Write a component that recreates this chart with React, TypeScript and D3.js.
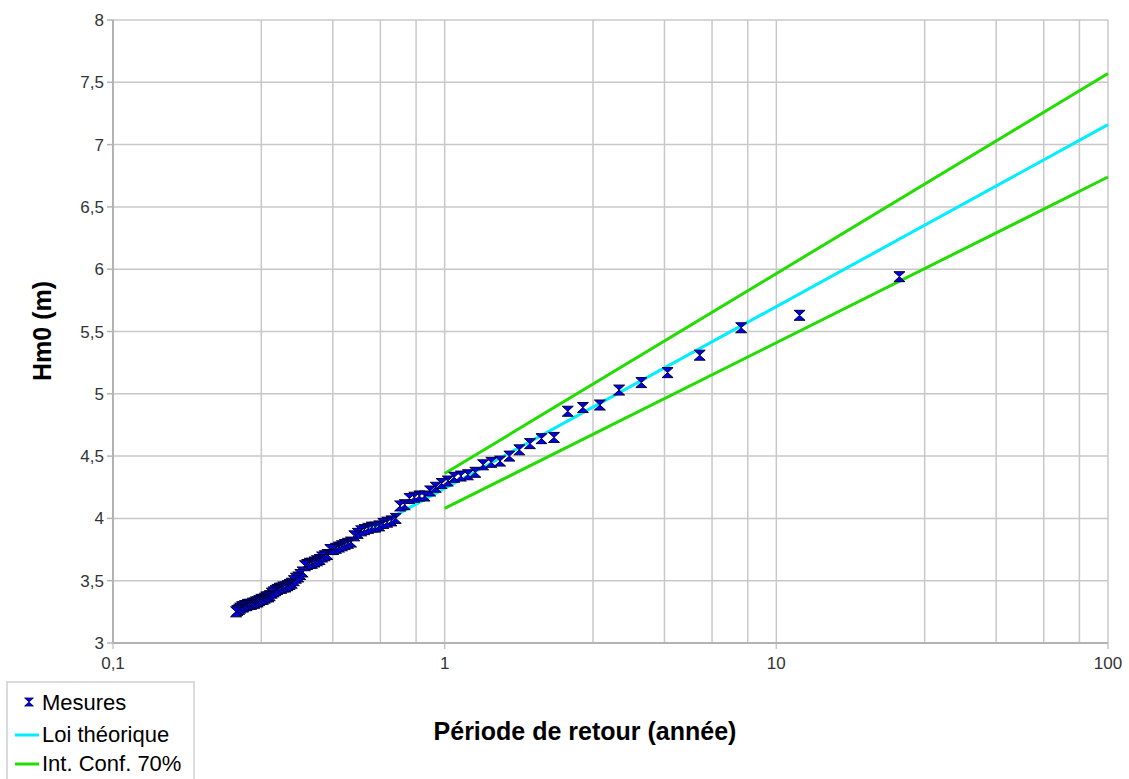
import React from "react";
import * as d3 from "d3";

const returnPeriods = [
  23.5, 11.75, 7.833, 5.875, 4.7, 3.917, 3.357, 2.938, 2.611, 2.35,
  2.136, 1.958, 1.808, 1.679, 1.567, 1.469, 1.382, 1.306, 1.237, 1.175,
  1.119, 1.068, 1.022, 0.979, 0.94, 0.904, 0.87, 0.839, 0.81, 0.783,
  0.758, 0.734, 0.712, 0.691, 0.671, 0.653, 0.635, 0.618, 0.603, 0.588,
  0.573, 0.56, 0.547, 0.534, 0.522, 0.511, 0.5, 0.49, 0.48, 0.47,
  0.461, 0.452, 0.443, 0.435, 0.427, 0.42, 0.412, 0.405, 0.398, 0.392,
  0.385, 0.379, 0.373, 0.367, 0.362, 0.356, 0.351, 0.346, 0.341, 0.336,
  0.331, 0.326, 0.322, 0.318, 0.313, 0.309, 0.305, 0.301, 0.297, 0.294,
  0.29, 0.287, 0.283, 0.28, 0.276, 0.273, 0.27, 0.267, 0.264, 0.261,
  0.258, 0.255, 0.253, 0.25, 0.247, 0.245, 0.242, 0.24, 0.237, 0.235,
];

const hm0 = [
  5.94, 5.63, 5.53, 5.31, 5.17, 5.09, 5.03, 4.91, 4.89, 4.86,
  4.65, 4.64, 4.6, 4.55, 4.5, 4.46, 4.45, 4.43, 4.37, 4.35,
  4.34, 4.33, 4.3, 4.28, 4.25, 4.22, 4.18, 4.18, 4.17, 4.16,
  4.11, 4.1, 4.0, 3.98, 3.97, 3.96, 3.94, 3.93, 3.93, 3.92,
  3.91, 3.9, 3.88, 3.86, 3.81, 3.8, 3.79, 3.78, 3.77, 3.76,
  3.75, 3.75, 3.71, 3.7, 3.69, 3.67, 3.66, 3.65, 3.64, 3.64,
  3.63, 3.62, 3.57, 3.55, 3.53, 3.52, 3.5, 3.48, 3.47, 3.46,
  3.45, 3.45, 3.44, 3.44, 3.43, 3.42, 3.41, 3.4, 3.38, 3.37,
  3.37, 3.36, 3.35, 3.35, 3.34, 3.33, 3.33, 3.32, 3.32, 3.31,
  3.31, 3.31, 3.3, 3.3, 3.29, 3.29, 3.28, 3.27, 3.26, 3.25,
];

// theoretical law and confidence bounds: [T, value]
const theoryT = [0.45, 100];
const theoryH = [3.734, 7.16];
const upperT = [1, 100];
const upperH = [4.36, 7.57];
const lowerT = [1, 100];
const lowerH = [4.08, 6.74];

const yTicks = [3, 3.5, 4, 4.5, 5, 5.5, 6, 6.5, 7, 7.5, 8];
const xMajor = [0.1, 1, 10, 100];
const xMajorLabels = ["0,1", "1", "10", "100"];
const xMinorSteps = [2.8, 4.6, 6.4, 8.2];

const W = 1129;
const H = 779;
const left = 113;
const right = 1108;
const top = 20;
const bottom = 643;

export default function App() {
  const x = d3.scaleLog().domain([0.1, 100]).range([left, right]);
  const y = d3.scaleLinear().domain([3, 8]).range([bottom, top]);
  const line = d3
    .line<[number, number]>()
    .x((d) => x(d[0]))
    .y((d) => y(d[1]));

  const minor: number[] = [];
  [0.1, 1, 10].forEach((dec) => xMinorSteps.forEach((s) => minor.push(dec * s)));

  const gridColor = "#c8c8c8";
  const font = "'Liberation Sans', Arial, sans-serif";
  const marker = "M-5.5,-5 L5.5,-5 L0,0 L5.5,5 L-5.5,5 L0,0 Z";

  const theory = theoryT.map((t, i) => [t, theoryH[i]] as [number, number]);
  const upper = upperT.map((t, i) => [t, upperH[i]] as [number, number]);
  const lower = lowerT.map((t, i) => [t, lowerH[i]] as [number, number]);

  return (
    <svg width={W} height={H} style={{ position: "absolute", left: 0, top: 0, background: "#fff" }} fontFamily={font}>
      <rect x={0} y={0} width={W} height={H} fill="#fff" />
      {yTicks.map((v) => (
        <line key={"h" + v} x1={left} x2={right} y1={y(v)} y2={y(v)} stroke={gridColor} strokeWidth={1.5} />
      ))}
      {minor.map((v) => (
        <line key={"m" + v} x1={x(v)} x2={x(v)} y1={top} y2={bottom} stroke={gridColor} strokeWidth={1.5} />
      ))}
      {xMajor.map((v) => (
        <line key={"M" + v} x1={x(v)} x2={x(v)} y1={top} y2={bottom + 6} stroke={gridColor} strokeWidth={1.5} />
      ))}
      {yTicks.map((v) => (
        <line key={"yt" + v} x1={left - 6} x2={left} y1={y(v)} y2={y(v)} stroke="#b3b3b3" strokeWidth={1.5} />
      ))}
      <line x1={left} x2={left} y1={top} y2={bottom} stroke="#b3b3b3" strokeWidth={2} />
      <line x1={left} x2={right} y1={bottom} y2={bottom} stroke="#b3b3b3" strokeWidth={2} />
      {yTicks.map((v) => (
        <text key={"yl" + v} x={left - 9} y={y(v) + 6} textAnchor="end" fontSize={17} fill="#333">
          {String(v).replace(".", ",")}
        </text>
      ))}
      {xMajor.map((v, i) => (
        <text key={"xl" + v} x={x(v)} y={bottom + 26} textAnchor="middle" fontSize={17} fill="#333">
          {xMajorLabels[i]}
        </text>
      ))}
      <path d={line(upper) || ""} fill="none" stroke="#22dd00" strokeWidth={3} />
      <path d={line(lower) || ""} fill="none" stroke="#22dd00" strokeWidth={3} />
      <path d={line(theory) || ""} fill="none" stroke="#00eeff" strokeWidth={3} />
      {returnPeriods.map((t, i) => (
        <path
          key={"p" + i}
          d={marker}
          transform={`translate(${x(t)},${y(hm0[i])})`}
          fill="#0000ee"
          stroke="#000033"
          strokeWidth={1}
        />
      ))}
      <text x={585} y={740} textAnchor="middle" fontSize={25} fontWeight="bold" fill="#000">
        Période de retour (année)
      </text>
      <text transform="translate(51,331) rotate(-90)" textAnchor="middle" fontSize={25} fontWeight="bold" fill="#000">
        Hm0 (m)
      </text>
      <rect x={7} y={682} width={187} height={110} fill="#fff" stroke="#d0d0d0" strokeWidth={1.5} />
      <path d={marker} transform="translate(29,702) scale(0.8)" fill="#0000ee" stroke="#000033" strokeWidth={1} />
      <text x={42} y={710} fontSize={22} fill="#000">Mesures</text>
      <line x1={15} x2={39} y1={735} y2={735} stroke="#00eeff" strokeWidth={3} />
      <text x={42} y={742} fontSize={22} fill="#000">Loi théorique</text>
      <line x1={15} x2={39} y1={764} y2={764} stroke="#22dd00" strokeWidth={3} />
      <text x={42} y={771} fontSize={22} fill="#000">Int. Conf. 70%</text>
    </svg>
  );
}
